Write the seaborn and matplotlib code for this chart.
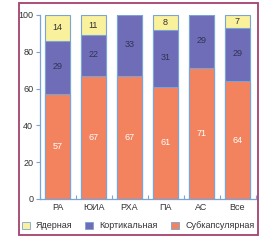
import matplotlib
matplotlib.use("Agg")
import matplotlib.pyplot as plt
import seaborn as sns
import pandas as pd
import numpy as np
from matplotlib.patches import Rectangle, Patch

categories = ["РА", "ЮИА", "РХА", "ПА", "АС", "Все"]
subcapsular = [57, 67, 67, 61, 71, 64]
cortical = [29, 22, 33, 31, 29, 29]
nuclear = [14, 11, 0, 8, 0, 7]
labels = ["Ядерная", "Кортикальная", "Субкапсулярная"]
yticks = [0, 20, 40, 60, 80, 100]

c_yellow = "#f9f19c"
c_blue = "#6f6db7"
c_orange = "#f3835f"
c_edge = "#7aa3d6"
c_frame = "#a4416e"

sns.set_theme(style="white")
plt.rcParams["font.family"] = ["Liberation Sans", "DejaVu Sans"]

df = pd.DataFrame({"cat": categories, "sub": subcapsular, "cort": cortical, "nuc": nuclear})
df["sc"] = df["sub"] + df["cort"]
df["tot"] = df["sc"] + df["nuc"]

fig = plt.figure(figsize=(2.8, 2.4), dpi=100)
ax = fig.add_axes([39.5 / 280, 41 / 240, 216 / 280, 184 / 240])

w = 0.72
for col, color in [("tot", c_yellow), ("sc", c_blue), ("sub", c_orange)]:
    sns.barplot(data=df, x="cat", y=col, color=color, width=w, ax=ax,
                edgecolor=c_edge, linewidth=0.8, saturation=1, order=categories)

for i in range(len(categories)):
    s, c, n = subcapsular[i], cortical[i], nuclear[i]
    ax.text(i, s / 2, str(s), ha="center", va="center", fontsize=6.5, color="white")
    ax.text(i, s + c / 2 + 0.5, str(c), ha="center", va="center", fontsize=6.5, color="#333355")
    if n > 0:
        ax.text(i, s + c + n / 2, str(n), ha="center", va="center", fontsize=6.5, color="#333333")

ax.set_xlim(-0.5, 5.5)
ax.set_ylim(0, 100)
ax.set_yticks(yticks)
ax.set_yticklabels([str(v) for v in yticks])
ax.set_xlabel("")
ax.set_ylabel("")
for sp in ["top", "right"]:
    ax.spines[sp].set_visible(False)
for sp in ["left", "bottom"]:
    ax.spines[sp].set_color(c_edge)
    ax.spines[sp].set_linewidth(0.9)
ax.tick_params(axis="y", direction="out", length=3, width=0.8, color=c_edge,
               labelsize=6.5, labelcolor="#333333", pad=1.5, left=True)
ax.tick_params(axis="x", which="major", length=0, labelsize=6.5, labelcolor="#333333", pad=3)
ax.set_xticks(np.arange(-0.5, 6.0, 1.0), minor=True)
ax.tick_params(axis="x", which="minor", direction="in", length=3, width=0.8, color=c_edge, bottom=True)

handles = [Patch(facecolor=c, edgecolor=c_edge, linewidth=0.6) for c in [c_yellow, c_blue, c_orange]]
fig.legend(handles, labels, loc="center", bbox_to_anchor=(138 / 280, 14 / 240), ncol=3, frameon=False,
           fontsize=6.5, handlelength=0.9, handleheight=0.9, handletextpad=0.7, columnspacing=1.4,
           labelcolor="#333333", borderpad=0, borderaxespad=0)

fig.patches.append(Rectangle((19 / 280, 5 / 240), 239 / 280, 232 / 240, transform=fig.transFigure,
                             fill=False, edgecolor=c_frame, linewidth=1.3))

fig.savefig("out.png", dpi=100)
